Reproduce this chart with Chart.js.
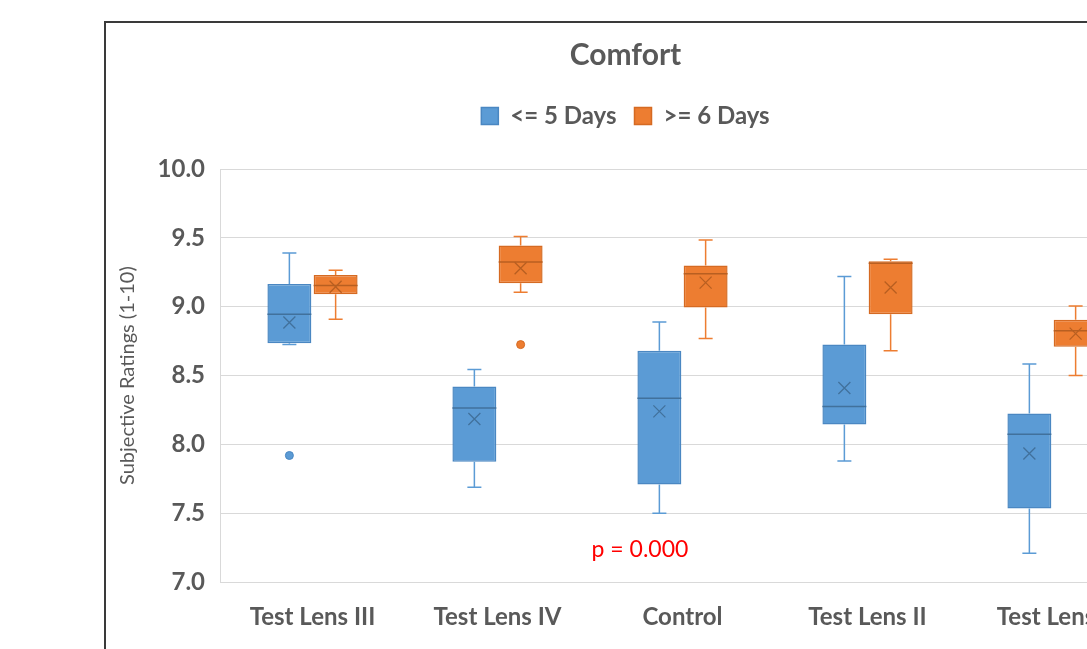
<!DOCTYPE html>
<html>
<head>
<meta charset="utf-8">
<script src="https://cdn.jsdelivr.net/npm/chart.js@4/dist/chart.umd.min.js"></script>
<style>
  html, body { margin: 0; padding: 0; background: #fff; overflow: hidden; width: 1087px; height: 649px; }
  #frame { position: absolute; left: 104px; top: 21px; width: 1056px; height: 700px; border: 2px solid #3a3a3a; background: #fff; }
  #frame canvas { display: block; }
</style>
</head>
<body>
<div id="frame"><canvas id="chart" width="1056" height="680"></canvas></div>
<script>
// --- Data
const categories = ["Test Lens III", "Test Lens IV", "Control", "Test Lens II", "Test Lens I"];

// <= 5 Days
const shortMin    = [8.725, 7.69, 7.50, 7.88, 7.21];
const shortQ1     = [8.735, 7.875, 7.71, 8.145, 7.535];
const shortMedian = [8.945, 8.265, 8.335, 8.275, 8.075];
const shortQ3     = [9.165, 8.42, 8.68, 8.725, 8.225];
const shortMax    = [9.39, 8.545, 8.89, 9.22, 8.585];
const shortMean   = [8.885, 8.185, 8.24, 8.41, 7.935];
const shortOutliers = [[0, 7.92]];

// >= 6 Days
const longMin    = [8.91, 9.105, 8.77, 8.68, 8.50];
const longQ1     = [9.09, 9.17, 8.995, 8.945, 8.71];
const longMedian = [9.155, 9.325, 9.24, 9.315, 8.825];
const longQ3     = [9.23, 9.445, 9.30, 9.33, 8.905];
const longMax    = [9.265, 9.51, 9.485, 9.345, 9.005];
const longMean   = [9.145, 9.28, 9.175, 9.14, 8.805];
const longOutliers = [[1, 8.725]];

const yTicks = [7.0, 7.5, 8.0, 8.5, 9.0, 9.5, 10.0];

const FONT = "Lato, 'Noto Sans', sans-serif";
const TEXT = "#595959";

function boxData(q1, q3){
  return q1.map((v, i) => [v, q3[i]]);
}

// --- Whiskers, medians, means and outliers drawn on top of the floating bars
const boxExtras = {
  id: "boxExtras",
  afterDatasetsDraw(chart){
    const { ctx } = chart;
    const y = chart.scales.y;
    chart.data.datasets.forEach((ds, di) => {
      const meta = chart.getDatasetMeta(di);
      const s = ds.stats;
      ctx.save();
      meta.data.forEach((bar, i) => {
        const cx = bar.x, half = bar.width / 2;
        const pMin = y.getPixelForValue(s.min[i]);
        const pQ1 = y.getPixelForValue(ds.data[i][0]);
        const pQ3 = y.getPixelForValue(ds.data[i][1]);
        const pMax = y.getPixelForValue(s.max[i]);
        const pMed = y.getPixelForValue(s.median[i]);
        const pMean = y.getPixelForValue(s.mean[i]);

        // whiskers + caps
        ctx.strokeStyle = s.whisker;
        ctx.lineWidth = 1.5;
        ctx.beginPath();
        ctx.moveTo(cx, pQ3); ctx.lineTo(cx, pMax);
        ctx.moveTo(cx - 7, pMax); ctx.lineTo(cx + 7, pMax);
        ctx.moveTo(cx, pQ1); ctx.lineTo(cx, pMin);
        ctx.moveTo(cx - 7, pMin); ctx.lineTo(cx + 7, pMin);
        ctx.stroke();

        // median
        ctx.strokeStyle = s.line;
        ctx.lineWidth = 1.5;
        ctx.beginPath();
        ctx.moveTo(cx - half, pMed); ctx.lineTo(cx + half, pMed);
        ctx.stroke();

        // mean marker
        ctx.lineWidth = 1.3;
        ctx.beginPath();
        ctx.moveTo(cx - 6, pMean - 6); ctx.lineTo(cx + 6, pMean + 6);
        ctx.moveTo(cx + 6, pMean - 6); ctx.lineTo(cx - 6, pMean + 6);
        ctx.stroke();
      });

      // outliers
      ctx.fillStyle = ds.backgroundColor;
      ctx.strokeStyle = ds.borderColor;
      ctx.lineWidth = 1;
      s.outliers.forEach(([i, v]) => {
        const bar = meta.data[i];
        ctx.beginPath();
        ctx.arc(bar.x, y.getPixelForValue(v), 4, 0, Math.PI * 2);
        ctx.fill();
        ctx.stroke();
      });
      ctx.restore();
    });
  }
};

// --- p-value note
const pNote = {
  id: "pNote",
  afterDraw(chart){
    const { ctx } = chart;
    const x = chart.scales.x, y = chart.scales.y;
    ctx.save();
    ctx.font = `23px ${FONT}`;
    ctx.fillStyle = "#ff0000";
    ctx.textAlign = "center";
    ctx.textBaseline = "middle";
    ctx.fillText("p = 0.000", x.getPixelForValue(1.77), y.getPixelForValue(7.24));
    ctx.restore();
  }
};

// --- extra space under the legend
const legendSpacer = {
  id: "legendSpacer",
  beforeLayout(chart){
    const lg = chart.legend;
    if (!lg || lg._spaced) return;
    const fit = lg.fit;
    lg.fit = function(){ fit.call(this); this.height += 31; };
    lg._spaced = true;
  }
};

new Chart(document.getElementById("chart"), {
  type: "bar",
  data: {
    labels: categories,
    datasets: [
      {
        label: "<= 5 Days",
        data: boxData(shortQ1, shortQ3),
        backgroundColor: "#5b9bd5",
        borderColor: "#4a87c2",
        borderWidth: 1.5,
        borderSkipped: false,
        stats: { min: shortMin, median: shortMedian, max: shortMax, mean: shortMean, outliers: shortOutliers, whisker: "#5b9bd5", line: "#41719c" }
      },
      {
        label: ">= 6 Days",
        data: boxData(longQ1, longQ3),
        backgroundColor: "#ed7d31",
        borderColor: "#d56a22",
        borderWidth: 1.5,
        borderSkipped: false,
        stats: { min: longMin, median: longMedian, max: longMax, mean: longMean, outliers: longOutliers, whisker: "#ed7d31", line: "#b85f21" }
      }
    ]
  },
  options: {
    responsive: false,
    animation: false,
    layout: { padding: { left: 0, right: 17, top: 0, bottom: 50 } },
    datasets: { bar: { categoryPercentage: 0.5, barPercentage: 0.95 } },
    plugins: {
      title: {
        display: true,
        text: "Comfort",
        color: TEXT,
        font: { family: FONT, size: 30, weight: "bold" },
        padding: { top: 14, bottom: 13 }
      },
      legend: {
        display: true,
        position: "top",
        labels: {
          color: TEXT,
          font: { family: FONT, size: 24, weight: "bold" },
          boxWidth: 17,
          boxHeight: 17,
          padding: 18
        }
      },
      tooltip: { enabled: false }
    },
    scales: {
      x: {
        grid: { display: false, drawTicks: false },
        border: { display: true, color: "#d9d9d9" },
        ticks: { color: TEXT, font: { family: FONT, size: 24, weight: "bold" }, padding: 21, maxRotation: 0 }
      },
      y: {
        min: 7,
        max: 10,
        afterBuildTicks: (scale) => { scale.ticks = yTicks.map(v => ({ value: v })); },
        afterFit: (scale) => { scale.width = 114; },
        grid: { color: "#d9d9d9", drawTicks: false },
        border: { display: true, color: "#d9d9d9" },
        ticks: { color: TEXT, font: { family: FONT, size: 24, weight: "bold" }, padding: 15, callback: (v) => Number(v).toFixed(1) },
        title: {
          display: true,
          text: "Subjective Ratings (1-10)",
          color: TEXT,
          font: { family: FONT, size: 20 },
          padding: { top: 10, bottom: 0 }
        }
      }
    }
  },
  plugins: [boxExtras, pNote, legendSpacer]
});
</script>
</body>
</html>
